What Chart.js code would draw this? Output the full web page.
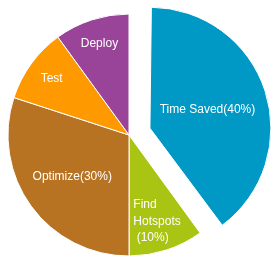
<!DOCTYPE html>
<html><head><meta charset="utf-8">
<script src="https://cdn.jsdelivr.net/npm/chart.js@4/dist/chart.umd.min.js"></script>
<style>html,body{margin:0;padding:0;background:#fff;}canvas{display:block;}</style>
</head><body>
<canvas id="c" width="274" height="263"></canvas>
<script>
const categories = ['Time Saved', 'Find Hotspots', 'Optimize', 'Test', 'Deploy'];
const values = [40, 10, 30, 10, 10];
const sliceLabels = [['Time Saved(40%)'], ['Find', 'Hotspots', ' (10%)'], ['Optimize(30%)'], ['Test'], ['Deploy']];
const colors = ['#0099c6', '#a9c413', '#b77322', '#ff9900', '#994499'];
const explode = [22, 0, 0, 0, 0];

const labelRadius = [0.5, 0.75, 0.58, 0.79, 0.79];
const labelAlign = ['center', 'left', 'center', 'center', 'center'];

const fixRadius = {
  id: 'fixRadius',
  afterDatasetUpdate(chart, args) {
    args.meta.data.forEach(arc => {
      const o = (arc.options.offset || 0) / 4;
      if (o) {
        const fix = 1 - Math.sin(Math.min(Math.PI, arc.circumference));
        arc.outerRadius -= o * fix;
      }
    });
  }
};

const sliceText = {
  id: 'sliceText',
  afterDatasetsDraw(chart) {
    const ctx = chart.ctx;
    const meta = chart.getDatasetMeta(0);
    const R = meta.controller.outerRadius;
    ctx.save();
    ctx.font = '12px "Liberation Sans", Arial, sans-serif';
    ctx.fillStyle = '#ffffff';
    ctx.textBaseline = 'middle';
    const lh = 16.5;
    meta.data.forEach((arc, i) => {
      const mid = (arc.startAngle + arc.endAngle) / 2;
      const o = (arc.options.offset || 0) / 4;
      const d = o + labelRadius[i] * R;
      const cx = arc.x + Math.cos(mid) * d;
      const cy = arc.y + Math.sin(mid) * d;
      const lines = sliceLabels[i];
      const n = lines.length;
      let maxW = 0;
      lines.forEach(l => { maxW = Math.max(maxW, ctx.measureText(l).width); });
      lines.forEach((l, j) => {
        const y = cy + (j - (n - 1) / 2) * lh;
        if (labelAlign[i] === 'left') {
          ctx.textAlign = 'left';
          ctx.fillText(l, cx - maxW / 2, y);
        } else {
          ctx.textAlign = 'center';
          ctx.fillText(l, cx, y);
        }
      });
    });
    ctx.restore();
  }
};

new Chart(document.getElementById('c'), {
  type: 'pie',
  data: {
    labels: categories,
    datasets: [{
      data: values,
      backgroundColor: colors,
      borderColor: '#ffffff',
      borderWidth: 1,
      offset: explode.map(e => e * 4),
      radius: 121
    }]
  },
  options: {
    responsive: false,
    animation: false,
    layout: { padding: { left: 0, right: 16, top: 7, bottom: 0 } },
    plugins: { legend: { display: false }, tooltip: { enabled: false } }
  },
  plugins: [fixRadius, sliceText]
});
</script>
</body></html>
